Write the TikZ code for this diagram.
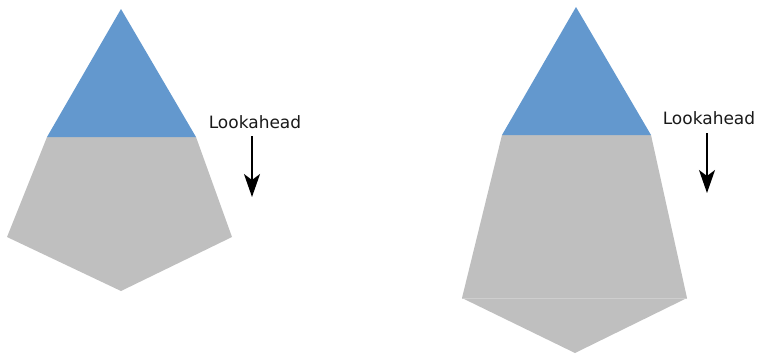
\documentclass[tikz,border=0pt]{standalone}
\usepackage{fontspec}
\setmainfont{DejaVu Sans}
\usetikzlibrary{arrows.meta, positioning}
\definecolor{topblue}{RGB}{99,152,206}
\definecolor{bodygray}{RGB}{191,191,191}
\definecolor{seamgray}{RGB}{206,206,206}

\begin{document}
\begin{tikzpicture}[
    x=1pt, y=-1pt,
    tip/.style={fill=topblue, draw=none},
    body/.style={fill=bodygray, draw=none},
    label/.style={font=\fontsize{17}{20}\selectfont, text=black!90, inner sep=0pt},
    arrow/.style={-{Stealth[length=23pt, width=16pt, inset=6pt]}, line width=1.6pt, black},
]
\useasboundingbox (0,0) rectangle (758,354);

% Left shape
\fill[body] (47,137) -- (196,137) -- (232,237) -- (121,291) -- (7,237) -- cycle;
\fill[tip] (121,9) -- (196,137) -- (47,137) -- cycle;

\node[label] (lookL) at (255,122) {Lookahead};
\coordinate (topL) at (252,136);
\coordinate (endL) at (252,197);
\draw[arrow] (topL) -- (endL);

% Right shape
\fill[body] (502,135) -- (651,135) -- (687,298) -- (462,298) -- cycle;
\fill[body] (462,298) -- (687,298) -- (575,353) -- cycle;
\draw[seamgray, line width=1pt] (462,298) -- (687,298);
\fill[tip] (576,7) -- (651,135) -- (502,135) -- cycle;

\node[label] (lookR) at (709,118) {Lookahead};
\coordinate (topR) at (707,133);
\coordinate (endR) at (707,193);
\draw[arrow] (topR) -- (endR);

\end{tikzpicture}
\end{document}
